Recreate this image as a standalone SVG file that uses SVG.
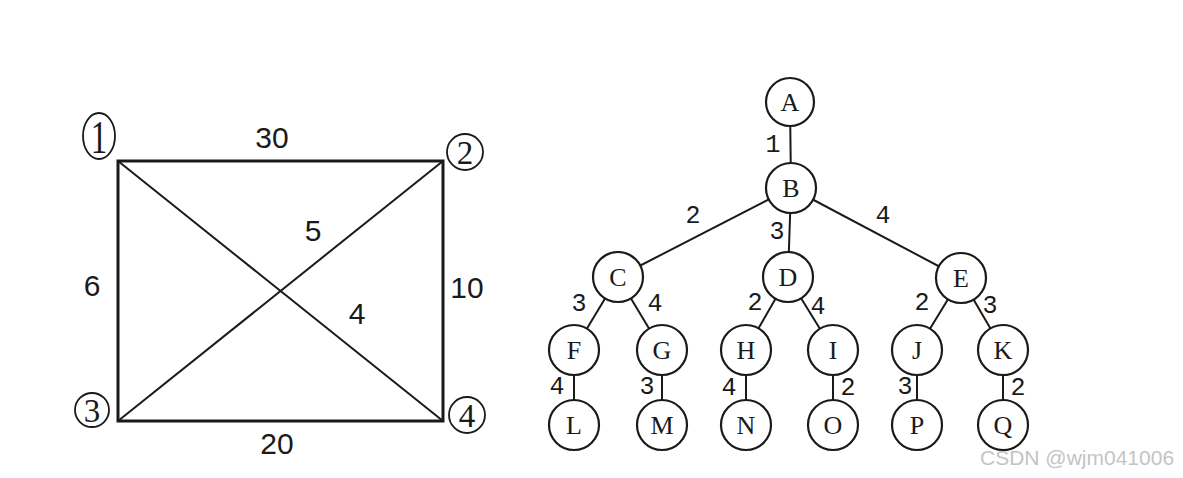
<svg xmlns="http://www.w3.org/2000/svg" width="1183" height="478" viewBox="0 0 1183 478">
<style>
.edge{stroke:#1a1a1a;stroke-width:2;fill:none}
.rect{stroke:#1a1a1a;stroke-width:3;fill:none}
.node{fill:#fff;stroke:#1a1a1a;stroke-width:2.2}
.nt{font-family:"Liberation Serif",serif;font-size:26px;fill:#1a1a1a;text-anchor:middle;dominant-baseline:central}
.tl{font-family:"Liberation Mono",monospace;font-size:25px;fill:#1a1a1a;text-anchor:middle;dominant-baseline:central}
.gl{font-family:"Liberation Sans",Arial,sans-serif;font-size:30px;fill:#1a1a1a;text-anchor:middle;dominant-baseline:central}
.cn{font-family:"Liberation Serif",serif;font-size:33px;fill:#1a1a1a;text-anchor:middle;dominant-baseline:central}
.cc{fill:none;stroke:#1a1a1a;stroke-width:1.8}
</style>
<rect width="1183" height="478" fill="#fff"/>
<g id="connectors">
<rect class="rect" x="118" y="161" width="325" height="260"/>
<line class="edge" x1="118" y1="161" x2="443" y2="421"/>
<line class="edge" x1="443" y1="161" x2="118" y2="421"/>
<line class="edge" x1="790" y1="102" x2="791" y2="188"/>
<line class="edge" x1="791" y1="188" x2="618" y2="277"/>
<line class="edge" x1="791" y1="188" x2="788" y2="277"/>
<line class="edge" x1="791" y1="188" x2="961" y2="278"/>
<line class="edge" x1="618" y1="277" x2="574" y2="350"/>
<line class="edge" x1="618" y1="277" x2="662" y2="350"/>
<line class="edge" x1="788" y1="277" x2="746" y2="350"/>
<line class="edge" x1="788" y1="277" x2="833" y2="350"/>
<line class="edge" x1="961" y1="278" x2="917" y2="350"/>
<line class="edge" x1="961" y1="278" x2="1003" y2="350"/>
<line class="edge" x1="574" y1="350" x2="574" y2="425"/>
<line class="edge" x1="662" y1="350" x2="662" y2="425"/>
<line class="edge" x1="746" y1="350" x2="746" y2="425"/>
<line class="edge" x1="833" y1="350" x2="833" y2="425"/>
<line class="edge" x1="917" y1="350" x2="917" y2="425"/>
<line class="edge" x1="1003" y1="350" x2="1003" y2="425"/>
</g>
<g id="graph-labels">
<text class="gl" x="272" y="137">30</text>
<text class="gl" x="313" y="230">5</text>
<text class="gl" x="92" y="285">6</text>
<text class="gl" x="467" y="287">10</text>
<text class="gl" x="357" y="313">4</text>
<text class="gl" x="277" y="443">20</text>
</g>
<g id="v1"><ellipse class="cc" cx="99" cy="136" rx="16" ry="23"/><text class="cn" transform="translate(99 137) scale(1 1.4)" x="0" y="0">1</text></g>
<g id="v2"><circle class="cc" cx="465" cy="152" r="18"/><text class="cn" x="465" y="153">2</text></g>
<g id="v3"><circle class="cc" cx="92" cy="410" r="17"/><text class="cn" x="92" y="411">3</text></g>
<g id="v4"><circle class="cc" cx="467" cy="415" r="18"/><text class="cn" x="467" y="416">4</text></g>
<g id="tree-labels">
<text class="tl" x="773" y="145">1</text>
<text class="tl" x="693" y="216">2</text>
<text class="tl" x="777" y="232">3</text>
<text class="tl" x="883" y="216">4</text>
<text class="tl" x="579" y="304">3</text>
<text class="tl" x="655" y="304">4</text>
<text class="tl" x="755" y="303">2</text>
<text class="tl" x="818" y="307">4</text>
<text class="tl" x="922" y="303">2</text>
<text class="tl" x="990" y="306">3</text>
<text class="tl" x="557" y="387">4</text>
<text class="tl" x="647" y="387">3</text>
<text class="tl" x="729" y="388">4</text>
<text class="tl" x="848" y="388">2</text>
<text class="tl" x="905" y="387">3</text>
<text class="tl" x="1018" y="388">2</text>
</g>
<g id="A"><circle class="node" cx="790" cy="102" r="24"/><text class="nt" x="790" y="102">A</text></g>
<g id="B"><circle class="node" cx="791" cy="188" r="25"/><text class="nt" x="791" y="188">B</text></g>
<g id="C"><circle class="node" cx="618" cy="277" r="25"/><text class="nt" x="618" y="277">C</text></g>
<g id="D"><circle class="node" cx="788" cy="277" r="25"/><text class="nt" x="788" y="277">D</text></g>
<g id="E"><circle class="node" cx="961" cy="278" r="25"/><text class="nt" x="961" y="278">E</text></g>
<g id="F"><circle class="node" cx="574" cy="350" r="25"/><text class="nt" x="574" y="350">F</text></g>
<g id="G"><circle class="node" cx="662" cy="350" r="25"/><text class="nt" x="662" y="350">G</text></g>
<g id="H"><circle class="node" cx="746" cy="350" r="25"/><text class="nt" x="746" y="350">H</text></g>
<g id="I"><circle class="node" cx="833" cy="350" r="25"/><text class="nt" x="833" y="350">I</text></g>
<g id="J"><circle class="node" cx="917" cy="350" r="25"/><text class="nt" x="917" y="350">J</text></g>
<g id="K"><circle class="node" cx="1003" cy="350" r="25"/><text class="nt" x="1003" y="350">K</text></g>
<g id="L"><circle class="node" cx="574" cy="425" r="25"/><text class="nt" x="574" y="425">L</text></g>
<g id="M"><circle class="node" cx="662" cy="425" r="25"/><text class="nt" x="662" y="425">M</text></g>
<g id="N"><circle class="node" cx="746" cy="425" r="25"/><text class="nt" x="746" y="425">N</text></g>
<g id="O"><circle class="node" cx="833" cy="425" r="25"/><text class="nt" x="833" y="425">O</text></g>
<g id="P"><circle class="node" cx="917" cy="425" r="25"/><text class="nt" x="917" y="425">P</text></g>
<g id="Q"><circle class="node" cx="1003" cy="425" r="25"/><text class="nt" x="1003" y="425">Q</text></g>
<text x="980" y="465" font-family="Liberation Sans, Arial, sans-serif" font-size="21" fill="#c4c4c4">CSDN @wjm041006</text>
</svg>
